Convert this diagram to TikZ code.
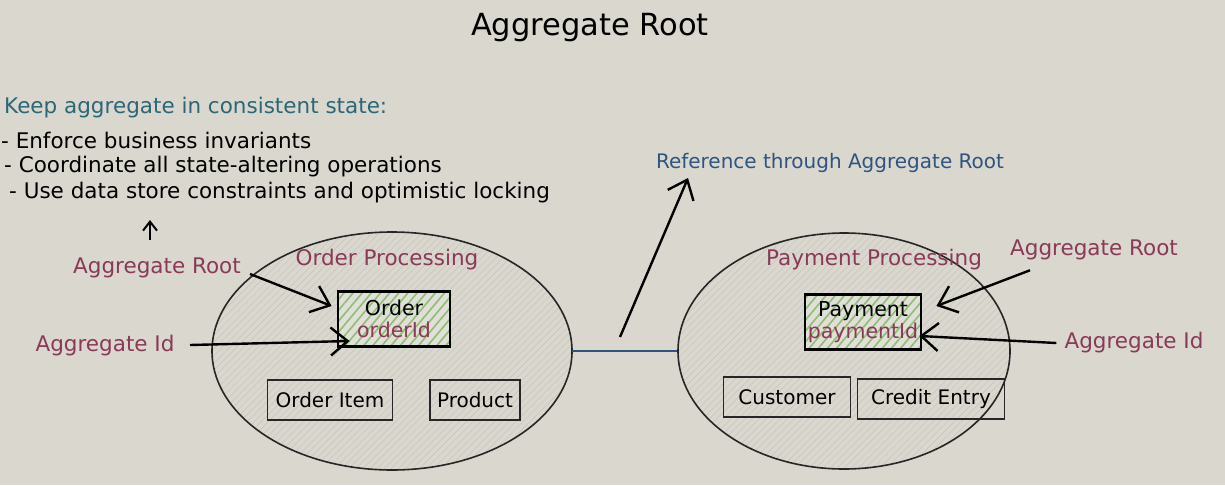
\documentclass[tikz,border=0pt]{standalone}
\usepackage{fontspec}
\setmainfont{DejaVu Sans}
\usetikzlibrary{arrows.meta,patterns.meta,shapes.geometric}
\definecolor{bg}{HTML}{D9D7CE}
\definecolor{maroon}{HTML}{8A3A58}
\definecolor{teal}{HTML}{2B6777}
\definecolor{dblue}{HTML}{2F5480}
\definecolor{hgreen}{HTML}{8DBF72}
\definecolor{hgray}{HTML}{C6C4BC}
\tikzset{
  every node/.style={inner sep=0pt},
  lbl/.style={font=\fontsize{21.5}{24}\selectfont},
  mlbl/.style={lbl,text=maroon},
  ellip/.style={draw=black!85,line width=1.6pt,
     pattern={Lines[angle=45,distance=5pt,line width=0.5pt]},pattern color=hgray},
  entity/.style={draw=black!85,line width=1.7pt,minimum height=40pt,font=\fontsize{20}{22}\selectfont},
  rootbox/.style={preaction={fill=bg!80!white},
     preaction={pattern={Lines[angle=50,distance=7pt,line width=1.6pt]},pattern color=hgreen},
     draw=black,line width=2.8pt,
     align=center,font=\fontsize{20.5}{24}\selectfont},
  arr/.style={line width=2.4pt,-{Straight Barb[length=17pt,width=28pt,line width=2.4pt]}},
}
\begin{document}
\begin{tikzpicture}[x=1pt,y=-1pt]
\useasboundingbox[fill=bg] (0,0) rectangle (1225,485);
% title
\node[font=\fontsize{30.5}{34}\selectfont] (title) at (590,28) {Aggregate Root};
% description
\node[lbl,text=teal,anchor=west] (keep) at (4,108) {Keep aggregate in consistent state:};
\node[lbl,anchor=west] (b1) at (1,140) {- Enforce business invariants};
\node[lbl,anchor=west] (b2) at (4,167) {- Coordinate all state-altering operations};
\node[lbl,anchor=west] (b3) at (9,193) {- Use data store constraints and optimistic locking};
\coordinate (up) at (150,220);
% left labels
\node[mlbl] (arL) at (157,268) {Aggregate Root};
\node[mlbl] (aiL) at (105,346) {Aggregate Id};
\draw[line width=2pt,-{Straight Barb[length=9pt,width=14pt,line width=2pt]}] ([xshift=-7pt,yshift=18pt]arL.north) -- (up);
% left ellipse
\node[ellip,ellipse,minimum width=360pt,minimum height=238pt] (ordEl) at (392,351) {};
\node[mlbl] (ordT) at (387,260) {Order Processing};
\node[rootbox,minimum width=112pt,minimum height=55pt] (order) at (394,319) {Order\\[-2pt]\textcolor{maroon}{orderId}};
\node[entity,minimum width=125pt] (oitem) at (330,400) {Order Item};
\node[entity,minimum width=90pt] (prod) at (475,400) {Product};
\coordinate (arLs) at (250,274);
\coordinate (aiLs) at (190,345);
\draw[arr] (arLs) -- ([xshift=-5pt,yshift=13pt]order.west);
\draw[arr] (aiLs) -- ([xshift=13pt,yshift=-22pt]order.west);
% right ellipse
\node[ellip,ellipse,minimum width=332pt,minimum height=236pt] (payEl) at (844,351) {};
\node[mlbl] (payT) at (874,260) {Payment Processing};
\node[rootbox,minimum width=116pt,minimum height=55pt] (pay) at (863,322) {Payment\\[-2pt]\textcolor{maroon}{paymentId}};
\node[entity,minimum width=127pt] (cust) at (787,397) {Customer};
\node[entity,minimum width=147pt] (credit) at (931,399) {Credit Entry};
\node[mlbl] (arR) at (1094,250) {Aggregate Root};
\node[mlbl] (aiR) at (1134,343) {Aggregate Id};
\draw[arr] ([xshift=-64pt,yshift=-10pt]arR.south) -- ([xshift=14pt,yshift=16pt]pay.east);
\draw[arr] ([xshift=-8pt]aiR.west) -- ([xshift=-3pt,yshift=-14pt]pay.east);
% link between aggregates
\draw[dblue,line width=1.8pt] (ordEl.east) -- (payEl.west);
\coordinate (refS) at (620,337);
\node[font=\fontsize{20}{24}\selectfont,text=dblue] (ref) at (830,163) {Reference through Aggregate Root};
\draw[arr] (refS) -- (688,178);
\end{tikzpicture}
\end{document}
